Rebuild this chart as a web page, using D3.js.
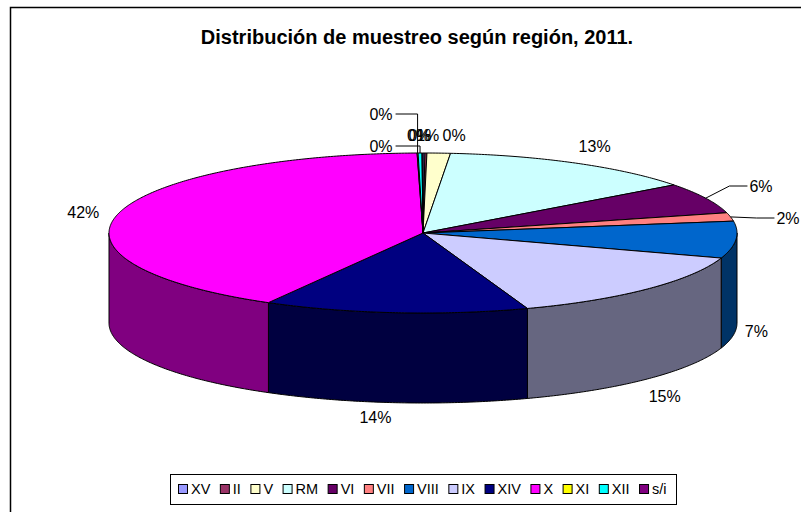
<!DOCTYPE html>
<html>
<head>
<meta charset="utf-8">
<script src="https://cdnjs.cloudflare.com/ajax/libs/d3/7.8.5/d3.min.js"></script>
<style>
  body { margin: 0; background: #fff; }
  text { font-family: "Liberation Sans", Arial, sans-serif; fill: #000; }
</style>
</head>
<body>
<div id="chart"></div>
<script>
  var title = "Distribución de muestreo según región, 2011.";
  var categories = ["XV", "II", "V", "RM", "VI", "VII", "VIII", "IX", "XIV", "X", "XI", "XII", "s/i"];
  var values = [0.1, 0.1, 1.2, 13.35, 6.2, 1.7, 7.45, 14.55, 13.6, 41.55, 0.05, 0.2, 0.05];
  var colors = ["#9999FF", "#993366", "#FFFFCC", "#CCFFFF", "#660066", "#FF8080", "#0066CC",
                "#CCCCFF", "#000080", "#FF00FF", "#FFFF00", "#00FFFF", "#800080"];

  // labels that excel moved by hand (with leader lines)
  var labelAt = { "XI": [381, 114], "XII": [381, 146], "VI": [761, 186], "VII": [788, 218] };
  // small nudges of the default label spots
  var labelShift = { "XV": [-4, -4], "s/i": [-4, -4], "II": [28, -4], "V": [-12, -4],
                     "RM": [8, -4], "VIII": [2, 0], "IX": [1, 8], "XIV": [-18, 1], "X": [-13, 2] };

  var W = 801, H = 512;
  var cx = 423, cy = 233, rx = 314, ry = 80, depth = 90;

  var svg = d3.select('#chart').append('svg')
              .attr('width', W).attr('height', H);

  // outer frame
  svg.append('path')
     .attr('d', 'M10.5,' + H + 'V7.5H' + W)
     .style('fill', 'none').style('stroke', '#000').style('stroke-width', 1.5);

  svg.append('text')
     .attr('x', 417).attr('y', 44)
     .attr('text-anchor', 'middle')
     .style('font-size', '20px').style('font-weight', 'bold')
     .text(title);

  var data = categories.map(function(c, i){ return { cat: c, value: values[i], color: colors[i] }; });
  var total = d3.sum(values);
  var arcs = d3.pie().sort(null).value(function(d){ return d.value; })(data);

  function pt(a, dz){ return [cx + rx * Math.sin(a), cy - ry * Math.cos(a) + (dz || 0)]; }
  function arcPts(a0, a1, dz){
    var n = Math.max(2, Math.ceil((a1 - a0) / 0.01));
    return d3.range(n + 1).map(function(i){ return pt(a0 + (a1 - a0) * i / n, dz); });
  }
  var line = d3.line();
  function dark(c){ var r = d3.rgb(c); return d3.rgb(r.r * 0.5, r.g * 0.5, r.b * 0.5).formatHex(); }

  // walls (front half only)
  var walls = svg.append('g');
  arcs.forEach(function(d){
    var s = Math.max(d.startAngle, Math.PI / 2), e = Math.min(d.endAngle, Math.PI * 1.5);
    if (s >= e) return;
    var p = arcPts(s, e, 0).concat(arcPts(s, e, depth).reverse());
    walls.append('path')
         .attr('d', line(p) + 'Z')
         .style('fill', dark(d.data.color))
         .style('stroke', '#000').style('stroke-width', 1)
         .style('stroke-linejoin', 'round');
  });

  // top faces
  svg.append('g').selectAll('path')
     .data(arcs)
     .enter().append('path')
     .attr('d', function(d){ return line([[cx, cy]].concat(arcPts(d.startAngle, d.endAngle, 0))) + 'Z'; })
     .style('fill', function(d){ return d.data.color; })
     .style('stroke', '#000').style('stroke-width', 1)
     .style('stroke-linejoin', 'round');

  // data labels
  var labels = svg.append('g').style('font-size', '16px');
  arcs.forEach(function(d){
    var a = (d.startAngle + d.endAngle) / 2;
    var front = Math.cos(a) < 0;
    var p = pt(a, front ? depth : 0);
    var txt = labels.append('text')
                    .attr('text-anchor', 'middle')
                    .attr('dy', '0.35em')
                    .text(Math.round(d.value / total * 100) + '%');
    var w = txt.node().getComputedTextLength(), h = 14, g = 7;
    var x, y;
    if (labelAt[d.data.cat]) {
      x = labelAt[d.data.cat][0]; y = labelAt[d.data.cat][1];
      var p0 = pt(a, 0), pts;
      if (x > p0[0]) {
        pts = [p0, [x - w / 2 - 20, y], [x - w / 2 - 2, y]];
      } else {
        pts = [p0, [p0[0], y], [x + w / 2 + 3, y]];
      }
      labels.append('path').attr('d', line(pts))
            .style('fill', 'none').style('stroke', '#000').style('stroke-width', 1);
    } else {
      x = p[0] + Math.sin(a) * (w / 2 + g);
      y = p[1] - Math.cos(a) * (h / 2 + g);
      var sh = labelShift[d.data.cat];
      if (sh) { x += sh[0]; y += sh[1]; }
    }
    txt.attr('x', x).attr('y', y);
  });

  // legend
  var legend = svg.append('g');
  var box = legend.append('rect')
                  .style('fill', '#fff').style('stroke', '#000').style('stroke-width', 1);
  var items = legend.append('g').style('font-size', '14.5px');
  var lx = 0, gap = 9.5;
  categories.forEach(function(c, i){
    items.append('rect')
         .attr('x', lx + 0.5).attr('y', -4.5)
         .attr('width', 9).attr('height', 9)
         .style('fill', colors[i]).style('stroke', '#000').style('stroke-width', 1);
    var t = items.append('text')
                 .attr('x', lx + 13).attr('y', 0).attr('dy', '0.35em')
                 .text(c);
    lx += 13 + t.node().getComputedTextLength() + gap;
  });
  lx -= gap;
  var legX = Math.round(422 - lx / 2), legY = 489;
  items.attr('transform', 'translate(' + legX + ',' + legY + ')');
  box.attr('x', legX - 7.5).attr('y', 474.5)
     .attr('width', Math.round(lx + 17)).attr('height', 30);
</script>
</body>
</html>
